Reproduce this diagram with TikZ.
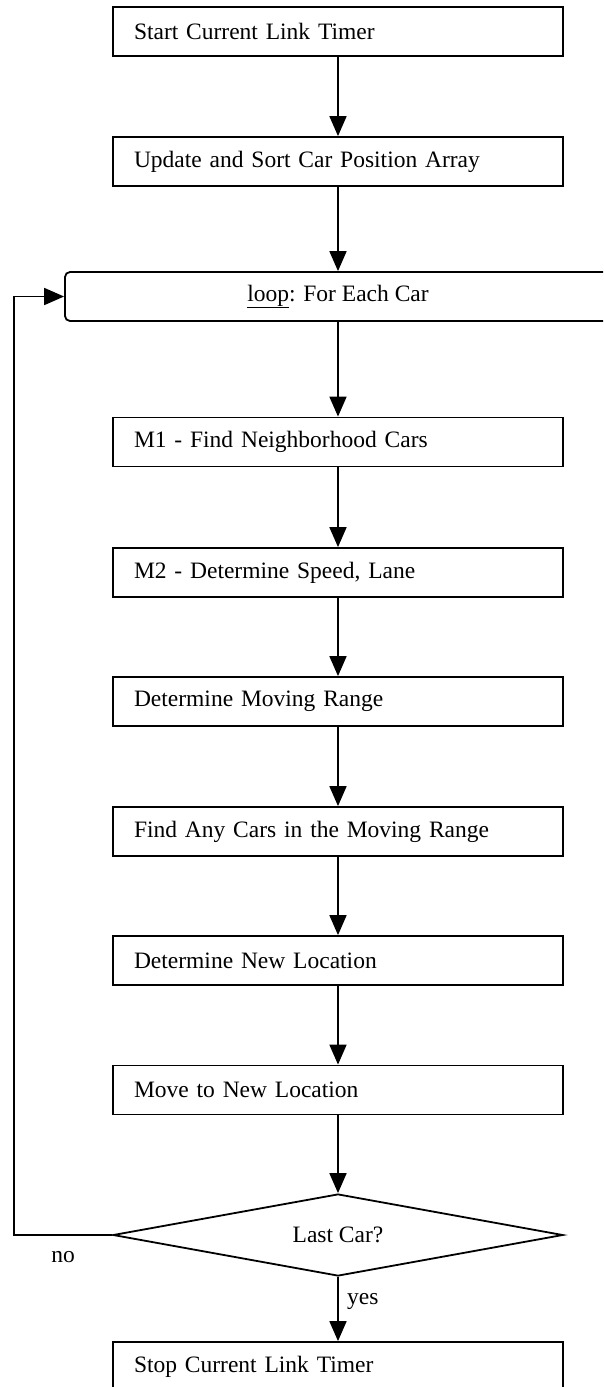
\documentclass[tikz,border=0pt]{standalone}
\usepackage{fontspec}
\setmainfont{Liberation Serif}
\usetikzlibrary{arrows.meta,shapes.geometric}
\tikzset{
  x=1pt, y=-1pt,
  every node/.style={font=\fontsize{23.5}{28}\selectfont},
  stepbox/.style={draw, line width=1.8pt, rectangle, minimum height=49pt,
    text width=408pt, inner xsep=21pt, inner ysep=0pt, align=left},
  loopbox/.style={draw, line width=1.8pt, rectangle, rounded corners=5pt,
    minimum height=49pt, minimum width=546pt, inner sep=0pt},
  decision/.style={draw, line width=1.8pt, diamond, aspect=5.5,
    minimum width=450pt, minimum height=82pt, inner sep=0pt},
  arr/.style={line width=1.8pt, -{Triangle[length=20pt,width=17pt]}},
  lbl/.style={inner sep=0pt}
}
\begin{document}
\begin{tikzpicture}
\clip (0,0) rectangle (603,1387);
\fill[white] (0,0) rectangle (603,1387);
\node[stepbox] (start) at (338,31.5) {Start Current Link Timer};
\node[stepbox] (sort) at (338,161.5) {Update and Sort Car Position Array};
\node[loopbox] (loop) at (338,296.5) {\underline{loop}: For Each Car};
\node[stepbox] (m1) at (338,442) {M1 - Find Neighborhood Cars};
\node[stepbox] (m2) at (338,572.5) {M2 - Determine Speed, Lane};
\node[stepbox] (range) at (338,701.5) {Determine Moving Range};
\node[stepbox] (find) at (338,831.5) {Find Any Cars in the Moving Range};
\node[stepbox] (newloc) at (338,960.5) {Determine New Location};
\node[stepbox] (move) at (338,1090) {Move to New Location};
\node[decision] (last) at (338,1235) {Last Car?};
\node[stepbox] (stop) at (338,1366.5) {Stop Current Link Timer};
\coordinate (corner) at (14,1235);
\draw[arr] (start) -- (sort);
\draw[arr] (sort) -- (loop);
\draw[arr] (loop) -- (m1);
\draw[arr] (m1) -- (m2);
\draw[arr] (m2) -- (range);
\draw[arr] (range) -- (find);
\draw[arr] (find) -- (newloc);
\draw[arr] (newloc) -- (move);
\draw[arr] (move) -- (last);
\draw[arr] (last) -- (stop);
\draw[arr] (last.west) -- (corner) |- (loop.west);
\node[lbl] (no) at (63,1257) {no};
\node[lbl, anchor=west] (yes) at (347,1301) {yes};
\end{tikzpicture}
\end{document}
